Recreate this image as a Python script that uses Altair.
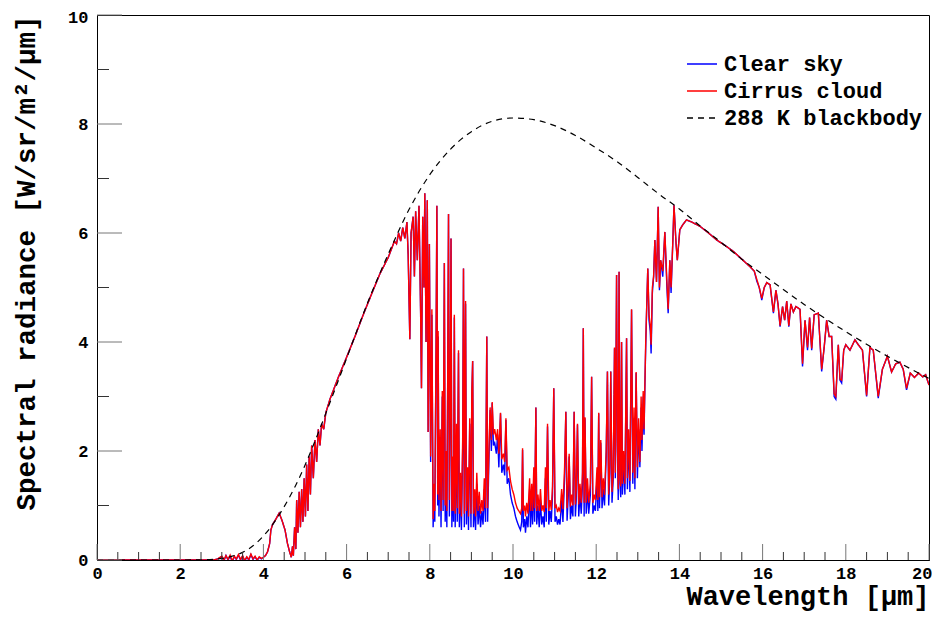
import altair as alt
import pandas as pd

# ---------------- data ----------------
wl = [
    0.0, 2.8, 2.9, 3.0, 3.05, 3.1, 3.15, 3.2, 3.25, 3.3,
    3.35, 3.4, 3.45, 3.5, 3.55, 3.6, 3.65, 3.7, 3.75, 3.8,
    3.85, 3.9, 3.95, 4.0, 4.05, 4.1, 4.15, 4.18, 4.22, 4.3,
    4.38, 4.45, 4.52, 4.58, 4.63, 4.67, 4.70, 4.72, 4.75, 4.78,
    4.8, 4.83, 4.86, 4.89, 4.92, 4.95, 4.98, 5.01, 5.04, 5.07,
    5.10, 5.13, 5.16, 5.2, 5.24, 5.28, 5.32, 5.36, 5.4, 5.45,
    5.5, 5.6, 5.7, 5.8, 6.0, 6.2, 6.4, 6.6, 6.8, 7.0,
    7.1, 7.15, 7.2, 7.25, 7.3, 7.35, 7.4, 7.45, 7.48, 7.52,
    7.55, 7.6, 7.63, 7.66, 7.7, 7.74, 7.78, 7.8, 7.83, 7.86,
    7.88, 7.91, 7.94, 7.96, 7.99,
    8.02, 8.05, 8.08, 8.1, 8.12, 8.15, 8.17, 8.19, 8.2, 8.22,
    8.25, 8.27, 8.3, 8.32, 8.35, 8.37, 8.39, 8.41, 8.43, 8.45,
    8.47, 8.49, 8.51, 8.53, 8.55, 8.57, 8.59, 8.61, 8.64, 8.66,
    8.69, 8.71, 8.74, 8.76, 8.79, 8.81, 8.83, 8.86, 8.88, 8.91,
    8.93, 8.96, 8.99, 9.01, 9.03, 9.05, 9.08, 9.1, 9.13, 9.16,
    9.19, 9.22, 9.25, 9.28, 9.31, 9.34, 9.37, 9.39, 9.42, 9.45,
    9.48, 9.5, 9.53, 9.56, 9.6, 9.63, 9.66, 9.7, 9.73, 9.77,
    9.8, 9.83, 9.86, 9.9, 9.94, 9.98, 10.02, 10.06, 10.1, 10.14,
    10.18, 10.21, 10.23, 10.25, 10.28, 10.3,
    10.33, 10.36, 10.4, 10.42, 10.45, 10.47, 10.5, 10.52, 10.55, 10.57,
    10.6, 10.63, 10.66, 10.69, 10.72, 10.75, 10.78, 10.8, 10.83, 10.86,
    10.89, 10.92, 10.95, 10.98, 11.01, 11.04, 11.07, 11.1, 11.13, 11.17,
    11.2, 11.24, 11.27, 11.3, 11.33, 11.35, 11.38, 11.41, 11.44, 11.47,
    11.5, 11.52, 11.55, 11.58, 11.61, 11.64, 11.67, 11.69, 11.71, 11.73,
    11.76, 11.79, 11.82, 11.86, 11.89, 11.92, 11.95, 11.98, 12.02, 12.04,
    12.06, 12.08, 12.11, 12.14, 12.17, 12.2, 12.24, 12.27, 12.3, 12.33,
    12.35, 12.38, 12.41, 12.44, 12.46, 12.49, 12.51, 12.53, 12.55, 12.57,
    12.59, 12.61, 12.63, 12.66, 12.69, 12.73, 12.75, 12.78, 12.81, 12.85,
    12.88, 12.91, 12.93, 12.96, 12.99, 13.02, 13.05, 13.08, 13.1, 13.13,
    13.15, 13.17, 13.19, 13.21, 13.24, 13.27, 13.3, 13.32, 13.35, 13.38,
    13.41, 13.45, 13.49, 13.52, 13.55, 13.6, 13.65, 13.7, 13.73, 13.77,
    13.8, 13.84, 13.87, 13.92, 13.95, 14.01, 14.08, 14.17, 14.3, 14.5,
    14.7, 14.9, 15.1, 15.3, 15.5, 15.7, 15.8, 15.86, 15.92, 15.98,
    16.04, 16.1, 16.18, 16.26, 16.32, 16.37, 16.42, 16.48, 16.53, 16.58,
    16.63, 16.68, 16.74, 16.8, 16.86, 16.9, 16.96, 17.02, 17.08, 17.13,
    17.18, 17.24, 17.34, 17.42, 17.48, 17.54, 17.6, 17.66, 17.72, 17.76,
    17.82, 17.86, 17.9, 17.95, 18.0, 18.1, 18.22, 18.3, 18.4, 18.5,
    18.58, 18.66, 18.78, 18.88, 19.0, 19.1, 19.2, 19.3, 19.38, 19.46,
    19.55, 19.65, 19.75, 19.85, 19.92, 20.0,
]

clear_sky = [
    0, 0, 0.02, 0.06, -0.02, 0.08, 0.0, 0.07, -0.03, 0.06,
    0.01, 0.09, 0.0, 0.07, -0.02, 0.05, 0.0, 0.1, 0.01, 0.06,
    -0.01, 0.05, 0.02, 0.05, 0.08, 0.15, 0.3, 0.55, 0.65, 0.75,
    0.86, 0.72, 0.55, 0.3, 0.15, 0.05, 0.25, 0.08, 0.6, 0.2,
    1.1, 0.5, 1.25, 0.6, 1.3, 0.7, 1.5, 0.8, 1.75, 0.9,
    1.9, 1.2, 2.1, 1.5, 2.2, 1.8, 2.4, 2.1, 2.5, 2.4,
    2.7, 2.95, 3.15, 3.35, 3.72, 4.1, 4.5, 4.88, 5.25, 5.55,
    5.75, 5.85, 5.8, 6.0, 5.85, 6.1, 5.9, 6.2, 5.6, 4.05,
    6.0, 6.3, 5.2, 6.4, 5.5, 6.5, 4.5, 3.15, 6.3, 5.0,
    6.73, 4.0, 6.6, 2.35, 5.8,
    1.8, 4.5, 0.6, 1.2, 0.7, 3.8, 6.5, 1.0, 4.1, 0.8,
    2.2, 0.6, 3.0, 0.9, 5.45, 0.7, 1.8, 0.6, 3.2, 6.35,
    0.8, 2.5, 5.9, 0.6, 1.7, 0.7, 4.45, 0.6, 2.3, 0.7,
    3.8, 0.6, 1.4, 0.55, 2.0, 5.35, 0.6, 4.7, 0.65, 1.5,
    0.55, 2.5, 0.6, 3.0, 3.65, 0.6, 1.1, 0.55, 1.4, 0.65,
    1.0, 0.6, 0.9, 0.65, 1.3, 0.7, 4.1, 0.7, 1.8, 2.75,
    2.0, 2.88, 2.1, 2.15, 1.95, 2.3, 1.7, 2.69, 1.6, 1.75,
    1.55, 2.57, 1.4, 1.5, 1.2, 1.05, 0.95, 0.8, 0.7, 0.62,
    0.55, 0.7, 2.02, 0.6, 0.75, 0.5,
    0.8, 0.6, 1.3, 0.6, 1.2, 0.65, 1.5, 0.7, 2.8, 0.65,
    1.0, 0.6, 1.1, 0.65, 0.8, 0.6, 1.5, 0.7, 2.45, 0.65,
    0.9, 0.7, 1.2, 3.15, 0.7, 0.8, 0.65, 0.75, 0.65, 1.1,
    0.7, 1.5, 2.72, 0.72, 1.2, 1.9, 0.75, 1.0, 0.8, 2.72,
    0.8, 1.1, 2.48, 0.8, 1.2, 0.85, 1.4, 4.25, 0.8, 2.6,
    0.85, 1.3, 0.85, 1.2, 3.36, 0.85, 1.0, 0.9, 1.5, 0.9,
    2.69, 0.95, 2.15, 0.95, 1.3, 1.0, 1.9, 3.46, 1.0, 1.6,
    3.46, 1.05, 1.5, 3.88, 1.5, 5.23, 2.0, 1.1, 5.29, 1.4,
    1.15, 4.0, 1.2, 1.8, 1.2, 4.07, 1.3, 2.2, 1.25, 4.59,
    1.4, 2.6, 1.3, 3.43, 1.5, 2.4, 1.7, 2.8, 2.0, 3.0,
    2.3, 3.18, 3.9, 4.53, 5.35, 4.4, 4.2, 3.79, 4.9, 5.2,
    5.87, 5.1, 6.48, 4.95, 5.5, 5.2, 6.02, 5.0, 4.53, 5.5,
    4.9, 5.8, 6.51, 5.8, 5.5, 6.06, 6.15, 6.24, 6.2, 6.12,
    6.0, 5.87, 5.77, 5.66, 5.52, 5.38, 5.3, 5.12, 5.0, 4.77,
    5.0, 5.09, 5.05, 4.53, 4.95, 4.7, 4.28, 4.65, 4.4, 4.75,
    4.28, 4.7, 4.55, 4.65, 4.62, 4.6, 3.55, 4.4, 3.85, 4.45,
    3.85, 4.5, 4.53, 3.46, 3.9, 4.4, 4.1, 4.1, 3.0, 2.95,
    3.95, 3.3, 3.25, 3.85, 3.95, 3.85, 4.04, 3.95, 3.85, 3.0,
    3.9, 3.85, 2.97, 3.5, 3.74, 3.45, 3.6, 3.63, 3.5, 3.12,
    3.43, 3.35, 3.43, 3.36, 3.4, 3.21,
]

cirrus_cloud = [
    0, 0, 0.02, 0.07, 0.0, 0.08, 0.01, 0.09, -0.02, 0.07,
    0.02, 0.1, 0.01, 0.08, -0.01, 0.06, 0.01, 0.11, 0.02, 0.07,
    0.0, 0.06, 0.03, 0.05, 0.08, 0.15, 0.3, 0.55, 0.65, 0.75,
    0.86, 0.72, 0.55, 0.3, 0.15, 0.05, 0.25, 0.08, 0.6, 0.2,
    1.1, 0.5, 1.25, 0.6, 1.3, 0.7, 1.5, 0.8, 1.75, 0.9,
    1.9, 1.2, 2.1, 1.5, 2.2, 1.8, 2.4, 2.1, 2.5, 2.4,
    2.7, 2.95, 3.15, 3.35, 3.72, 4.1, 4.5, 4.88, 5.25, 5.55,
    5.75, 5.85, 5.8, 6.0, 5.85, 6.1, 5.9, 6.2, 5.6, 4.05,
    6.0, 6.3, 5.2, 6.4, 5.5, 6.5, 4.5, 3.15, 6.3, 5.0,
    6.73, 4.0, 6.6, 2.35, 5.8,
    1.9, 4.6, 0.75, 1.4, 0.9, 3.9, 6.5, 1.2, 4.2, 1.1,
    2.4, 0.9, 3.1, 1.1, 5.45, 1.0, 2.0, 0.9, 3.3, 6.35,
    1.1, 2.7, 5.9, 0.9, 1.9, 0.9, 4.5, 0.85, 2.5, 0.95,
    3.85, 0.85, 1.6, 0.8, 2.2, 5.35, 0.85, 4.75, 0.9, 1.7,
    0.8, 2.6, 0.85, 3.1, 3.65, 0.85, 1.3, 0.8, 1.6, 0.9,
    1.25, 0.85, 1.1, 0.9, 1.5, 0.95, 4.1, 0.95, 2.0, 2.8,
    2.2, 2.9, 2.3, 2.4, 2.2, 2.4, 1.95, 2.7, 1.85, 1.95,
    1.8, 2.6, 1.65, 1.7, 1.45, 1.3, 1.2, 1.05, 0.95, 0.9,
    0.85, 0.95, 2.05, 0.9, 1.0, 0.8,
    1.05, 0.85, 1.5, 0.9, 1.4, 0.9, 1.7, 0.95, 2.8, 0.9,
    1.2, 0.9, 1.3, 0.9, 1.0, 0.88, 1.7, 0.95, 2.5, 0.9,
    1.1, 0.92, 1.35, 3.15, 0.95, 1.0, 0.88, 0.95, 0.9, 1.3,
    0.93, 1.7, 2.72, 0.95, 1.4, 1.95, 0.98, 1.2, 1.0, 2.72,
    1.02, 1.3, 2.5, 1.02, 1.4, 1.05, 1.6, 4.25, 1.05, 2.62,
    1.05, 1.5, 1.05, 1.4, 3.36, 1.05, 1.2, 1.1, 1.7, 1.1,
    2.7, 1.15, 2.2, 1.15, 1.5, 1.2, 2.0, 3.46, 1.2, 1.75,
    3.46, 1.25, 1.6, 3.9, 1.6, 5.23, 2.2, 1.3, 5.29, 1.5,
    1.35, 4.0, 1.4, 2.0, 1.4, 4.07, 1.5, 2.4, 1.45, 4.6,
    1.6, 2.8, 1.5, 3.45, 1.7, 2.6, 1.8, 3.0, 2.2, 3.1,
    2.4, 3.2, 4.0, 4.53, 5.35, 4.5, 4.3, 3.95, 5.0, 5.2,
    5.87, 5.1, 6.48, 5.0, 5.5, 5.3, 6.02, 5.1, 4.6, 5.5,
    5.0, 5.8, 6.51, 5.8, 5.5, 6.06, 6.15, 6.24, 6.2, 6.12,
    6.0, 5.87, 5.77, 5.66, 5.52, 5.38, 5.3, 5.15, 5.0, 4.8,
    5.0, 5.09, 5.05, 4.55, 4.95, 4.7, 4.3, 4.65, 4.4, 4.75,
    4.3, 4.7, 4.55, 4.65, 4.62, 4.6, 3.6, 4.4, 3.9, 4.45,
    3.88, 4.5, 4.53, 3.5, 3.9, 4.4, 4.1, 4.1, 3.05, 3.0,
    3.95, 3.32, 3.3, 3.85, 3.95, 3.85, 4.04, 3.95, 3.85, 3.02,
    3.9, 3.85, 3.0, 3.5, 3.74, 3.45, 3.6, 3.63, 3.5, 3.15,
    3.43, 3.35, 3.43, 3.36, 3.4, 3.21,
]

bb_wl = [0.0, 2.0, 2.5, 3.0, 3.25, 3.5, 3.75, 4.0, 4.25, 4.5,
         4.75, 5.0, 5.25, 5.5, 5.75, 6.0, 6.5, 7.0, 7.5, 8.0,
         8.5, 9.0, 9.5, 10.0, 10.5, 11.0, 11.5, 12.0, 12.5, 13.0,
         13.5, 14.0, 14.5, 15.0, 15.5, 16.0, 17.0, 18.0, 19.0, 20.0]
bb_val = [0.0, 0.0, 0.003, 0.03, 0.07, 0.14, 0.26, 0.44, 0.68, 0.98,
          1.33, 1.74, 2.2, 2.69, 3.19, 3.70, 4.71, 5.61, 6.43, 7.07,
          7.54, 7.86, 8.05, 8.11, 8.08, 7.97, 7.79, 7.56, 7.31, 7.02,
          6.72, 6.44, 6.13, 5.83, 5.52, 5.24, 4.69, 4.19, 3.74, 3.33]

series_names = ["Clear sky", "Cirrus cloud", "288 K blackbody"]
series_colors = ["#0000ff", "#ff0000", "#000000"]

x_major = [0, 2, 4, 6, 8, 10, 12, 14, 16, 18, 20]
x_minor = [0.5, 1, 1.5, 2.5, 3, 3.5, 4.5, 5, 5.5, 6.5, 7, 7.5, 8.5, 9, 9.5,
           10.5, 11, 11.5, 12.5, 13, 13.5, 14.5, 15, 15.5, 16.5, 17, 17.5,
           18.5, 19, 19.5]
y_major = [0, 2, 4, 6, 8, 10]
y_minor = [1, 3, 5, 7, 9]

# ---------------- chart ----------------
FONT = "Liberation Mono"
W, H = 832, 545

df_clear = pd.DataFrame({"wl": wl, "val": clear_sky, "series": "Clear sky"})
df_cirrus = pd.DataFrame({"wl": wl, "val": cirrus_cloud, "series": "Cirrus cloud"})
df_bb = pd.DataFrame({"wl": bb_wl, "val": bb_val, "series": "288 K blackbody"})

xscale = alt.Scale(domain=[0, 20], nice=False, zero=False)
yscale = alt.Scale(domain=[0, 10], nice=False)

x_enc = alt.X("wl:Q", scale=xscale, axis=alt.Axis(
    values=x_major, format="d", title="Wavelength [µm]", grid=False,
    ticks=False, tickSize=0, labelPadding=5, labelFlush=False, labelOverlap=False,
    labelAlign=alt.expr("datum.value == 20 ? 'right' : 'center'"),
    labelOffset=alt.expr("datum.value == 20 ? 3 : 0"),
    titleAnchor="end", titleAlign="right", titleX=W, titleY=44,
    titleFontSize=27, titleBaseline="alphabetic"))
y_enc = alt.Y("val:Q", scale=yscale, axis=alt.Axis(
    values=y_major, format="d", title="Spectral radiance [W/sr/m²/µm]", grid=False,
    ticks=False, tickSize=0, labelPadding=9, labelFlush=False, labelOverlap=False,
    labelOffset=alt.expr("datum.value == 10 ? 2 : 0"),
    titleAnchor="end", titleAlign="right", titleAngle=270, titleX=-63, titleY=0,
    titleFontSize=27.5, titleBaseline="alphabetic"))

color_enc = alt.Color("series:N", scale=alt.Scale(domain=series_names, range=series_colors),
                      legend=alt.Legend(title=None))
dash_enc = alt.StrokeDash("series:N", scale=alt.Scale(domain=series_names,
                          range=[[1, 0], [1, 0], [6, 5]]),
                          legend=alt.Legend(title=None))

def line(df, **kw):
    return alt.Chart(df).mark_line(clip=True, **kw).encode(
        x=x_enc, y=y_enc, color=color_enc, strokeDash=dash_enc, order="wl:Q")

l_clear = line(df_clear, strokeWidth=1.4)
l_cirrus = line(df_cirrus, strokeWidth=1.4)
l_bb = line(df_bb, strokeWidth=1.2, interpolate="monotone")

xt_major = alt.Chart(pd.DataFrame({"t": x_major})).mark_rule(color="#777777", strokeWidth=1).encode(
    x=alt.X("t:Q", scale=xscale), y=alt.value(H), y2=alt.value(H - 16))
xt_minor = alt.Chart(pd.DataFrame({"t": x_minor})).mark_rule(color="#333333", strokeWidth=1).encode(
    x=alt.X("t:Q", scale=xscale), y=alt.value(H), y2=alt.value(H - 8))
yt_major = alt.Chart(pd.DataFrame({"t": y_major})).mark_rule(color="#777777", strokeWidth=1).encode(
    y=alt.Y("t:Q", scale=yscale), x=alt.value(0), x2=alt.value(25))
yt_minor = alt.Chart(pd.DataFrame({"t": y_minor})).mark_rule(color="#333333", strokeWidth=1).encode(
    y=alt.Y("t:Q", scale=yscale), x=alt.value(0), x2=alt.value(12))

chart = alt.layer(l_clear, l_cirrus, l_bb, xt_major, xt_minor, yt_major, yt_minor).properties(
    width=W, height=H,
    autosize=alt.AutoSizeParams(type="none"),
    padding={"left": 89, "top": 7, "right": 3, "bottom": 52},
).configure_view(stroke="black", strokeWidth=1).configure_axis(
    labelFont=FONT, labelFontWeight="bold", labelFontSize=17, labelColor="black",
    titleFont=FONT, titleFontWeight="bold", titleColor="black",
    domainColor="black", domainWidth=1,
).configure_legend(
    orient="none", legendX=589, legendY=33, padding=0,
    labelFont=FONT, labelFontWeight="bold", labelFontSize=22, labelColor="black",
    symbolType="stroke", symbolSize=900, symbolStrokeWidth=1.3,
    rowPadding=0, labelOffset=6, labelLimit=400,
)

chart.save("out.html", embed_options={"renderer": "svg", "actions": False})
